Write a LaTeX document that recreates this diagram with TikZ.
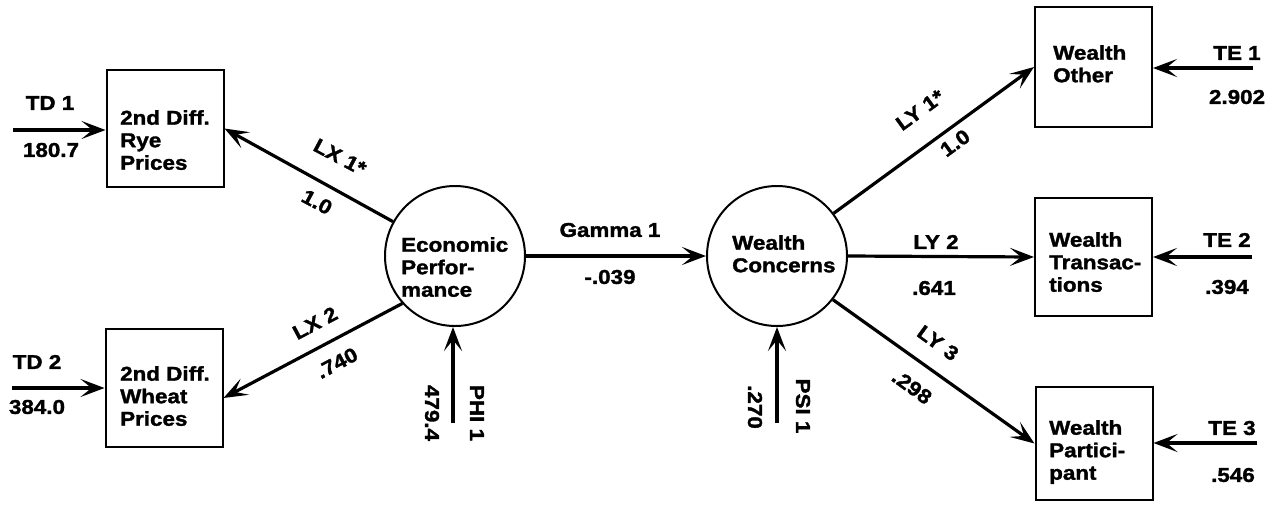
\documentclass[tikz,border=0pt]{standalone}
\usepackage{fontspec}
\newfontfamily\labfont{Liberation Sans}[FakeStretch=1.12,FakeBold=1.6]
\usetikzlibrary{arrows.meta}
\tikzset{
  box/.style={draw, line width=2pt, minimum width=117pt, inner sep=0pt},
  lat/.style={draw, circle, line width=2pt, minimum size=140pt, inner sep=0pt},
  txt/.style={font=\labfont\bfseries\fontsize{20}{22.5}\selectfont, inner sep=0pt, align=left},
  con/.style={line width=3.2pt, -{Stealth[length=24pt,width=18pt,inset=11pt]}},
}
\begin{document}
\begin{tikzpicture}[x=1pt,y=-1pt]
\useasboundingbox (0,0) rectangle (1271,504);

% observed variables
\node[box, minimum height=117pt] (rye) at (165,128.5) {};
\node[box, minimum height=118pt] (wheat) at (164,388) {};
\node[box, minimum height=120pt] (wo) at (1093.5,67) {};
\node[box, minimum height=118pt] (wt) at (1093.5,257) {};
\node[box, minimum height=113pt] (wp) at (1094,443.5) {};

\node[txt, anchor=north west] (ryet) at (120,110) {2nd Diff.\\Rye\\Prices};
\node[txt, anchor=north west] (wheatt) at (120,366) {2nd Diff.\\Wheat\\Prices};
\node[txt, anchor=north west] (wot) at (1053,45) {Wealth\\Other};
\node[txt, anchor=north west] (wtt) at (1049,232) {Wealth\\Transac-\\tions};
\node[txt, anchor=north west] (wpt) at (1049,420) {Wealth\\Partici-\\pant};

% latent variables
\node[lat] (ep) at (455,256) {};
\node[lat] (wc) at (777,256) {};
\node[txt, anchor=north west] (ept) at (401,237) {Economic\\Perfor-\\mance};
\node[txt, anchor=north west] (wct) at (732,235) {Wealth\\Concerns};

% free ends
\coordinate (td1) at (13,130);
\coordinate (td2) at (12,388);
\coordinate (te1) at (1253,68);
\coordinate (te2) at (1252,257);
\coordinate (te3) at (1257,443);
\coordinate (phi) at (453,423);
\coordinate (psi) at (777,423);

% connectors
\draw[con] (ep.151) -- (rye.east);
\draw[con] (ep.222) -- ([yshift=-10pt]wheat.east);
\draw[con] (ep.east) -- (wc.west);
\draw[con] (wc.37) -- (wo.west);
\draw[con] (wc.east) -- (wt.west);
\draw[con] (wc.322) -- (wp.west);
\draw[con] (td1) -- (td1 -| rye.west);
\draw[con] (td2) -- (td2 -| wheat.west);
\draw[con] (te1) -- (te1 -| wo.east);
\draw[con] (te2) -- (te2 -| wt.east);
\draw[con] (te3) -- (te3 -| wp.east);
\draw[con] (phi) -- (phi |- ep.south);
\draw[con] (psi) -- (psi |- wc.south);

% labels
\node[txt] (ltd1) at (50,103) {TD 1};
\node[txt] (vtd1) at (51,150) {180.7};
\node[txt] (ltd2) at (37,362) {TD 2};
\node[txt] (vtd2) at (37,407) {384.0};
\node[txt, rotate=-28] (llx1) at (340,157) {LX 1*};
\node[txt, rotate=-28] (vlx1) at (317,202) {1.0};
\node[txt, rotate=28] (llx2) at (315,323) {LX 2};
\node[txt, rotate=28] (vlx2) at (337,363) {.740};
\node[txt] (lg) at (610,230) {Gamma 1};
\node[txt] (vg) at (610,277) {-.039};
\node[txt, rotate=-90] (vphi) at (432,413) {479.4};
\node[txt, rotate=-90] (lphi) at (477,413) {PHI 1};
\node[txt, rotate=-90] (vpsi) at (755,407) {.270};
\node[txt, rotate=-90] (lpsi) at (803,406) {PSI 1};
\node[txt, rotate=36] (lly1) at (920,110) {LY 1*};
\node[txt, rotate=36] (vly1) at (955,143) {1.0};
\node[txt] (lly2) at (936,242) {LY 2};
\node[txt] (vly2) at (934,288) {.641};
\node[txt, rotate=-36] (lly3) at (938,343) {LY 3};
\node[txt, rotate=-36] (vly3) at (912,387) {.298};
\node[txt] (lte1) at (1237,53) {TE 1};
\node[txt] (vte1) at (1237,97) {2.902};
\node[txt] (lte2) at (1227,240) {TE 2};
\node[txt] (vte2) at (1227,287) {.394};
\node[txt] (lte3) at (1232,428) {TE 3};
\node[txt] (vte3) at (1233,475) {.546};
\end{tikzpicture}
\end{document}
